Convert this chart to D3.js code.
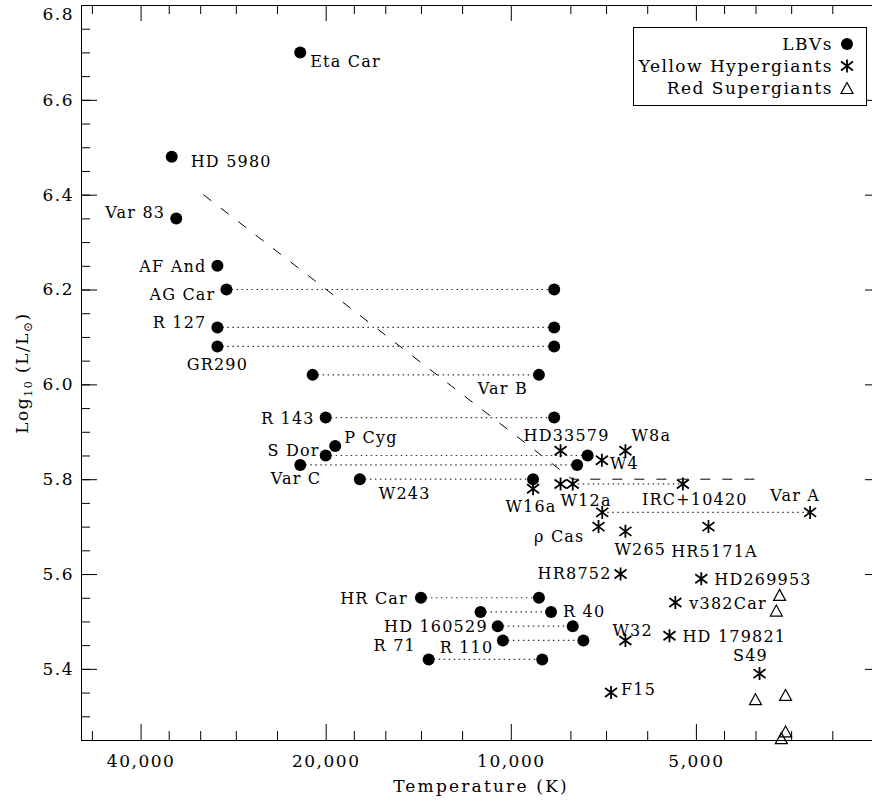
<!DOCTYPE html>
<html>
<head>
<meta charset="utf-8">
<script src="https://cdn.jsdelivr.net/npm/d3@7"></script>
<style>
  body { margin: 0; background: #fff; }
  svg { display: block; }
  text { font-family: "DejaVu Serif", serif; font-size: 17px; letter-spacing: 1.5px; fill: #000; }
  .name { font-size: 16px; letter-spacing: 1.2px; }
  .title { letter-spacing: 2.2px; }
  .axis path, .axis line { stroke: #000; stroke-width: 1px; }
  .axis text { font-family: "DejaVu Serif", serif; font-size: 17px; }
  .pair { stroke: #333; stroke-width: 1.2px; stroke-dasharray: 1.5,3.5; fill: none; }
  .hd { stroke: #000; stroke-width: 1px; stroke-dasharray: 10,12; fill: none; }
  .star { stroke: #000; stroke-width: 1.8px; fill: none; }
  .tri { stroke: #000; stroke-width: 1.2px; fill: none; }
</style>
</head>
<body>
<svg width="872" height="801"></svg>
<script>
// LBVs: temperatures (K) – two values means the star moves between them
const lbvs = [
  { name: "Eta Car", t: [22000], logL: 6.70 },
  { name: "HD 5980", t: [35600], logL: 6.48 },
  { name: "Var 83", t: [35000], logL: 6.35 },
  { name: "AF And", t: [30000], logL: 6.25 },
  { name: "AG Car", t: [29000, 8500], logL: 6.20 },
  { name: "R 127", t: [30000, 8500], logL: 6.12 },
  { name: "GR290", t: [30000, 8500], logL: 6.08 },
  { name: "Var B", t: [21000, 9000], logL: 6.02 },
  { name: "R 143", t: [20000, 8500], logL: 5.93 },
  { name: "P Cyg", t: [19300], logL: 5.87 },
  { name: "S Dor", t: [20000, 7500], logL: 5.85 },
  { name: "Var C", t: [22000, 7800], logL: 5.83 },
  { name: "W243", t: [17600, 9200], logL: 5.80 },
  { name: "HR Car", t: [14000, 9000], logL: 5.55 },
  { name: "R 40", t: [11200, 8600], logL: 5.52 },
  { name: "HD 160529", t: [10500, 7930], logL: 5.49 },
  { name: "R 71", t: [10300, 7620], logL: 5.46 },
  { name: "R 110", t: [13600, 8890], logL: 5.42 }
];

const yellowHypergiants = [
  { name: "HD33579", t: [8300], logL: 5.86 },
  { name: "W8a", t: [6510], logL: 5.86 },
  { name: "W4", t: [7110], logL: 5.84 },
  { name: "W16a", t: [9200], logL: 5.78 },
  { name: "W12a", t: [8300], logL: 5.79 },
  { name: "IRC+10420", t: [7930, 5250], logL: 5.79 },
  { name: "Var A", t: [7100, 3260], logL: 5.73 },
  { name: "ρ Cas", t: [7200], logL: 5.70 },
  { name: "W265", t: [6510], logL: 5.69 },
  { name: "HR5171A", t: [4770], logL: 5.70 },
  { name: "HR8752", t: [6630], logL: 5.60 },
  { name: "HD269953", t: [4900], logL: 5.59 },
  { name: "v382Car", t: [5400], logL: 5.54 },
  { name: "W32", t: [6510], logL: 5.46 },
  { name: "HD 179821", t: [5520], logL: 5.47 },
  { name: "S49", t: [3940], logL: 5.39 },
  { name: "F15", t: [6870], logL: 5.35 }
];

const redSupergiants = [
  { t: 3655, logL: 5.556 },
  { t: 3700, logL: 5.523 },
  { t: 4000, logL: 5.336 },
  { t: 3574, logL: 5.345 },
  { t: 3574, logL: 5.268 },
  { t: 3631, logL: 5.254 }
];

// Humphreys-Davidson limit
const hdLimit = [
  { t: 31623, logL: 6.40 },
  { t: 7943, logL: 5.80 },
  { t: 3981, logL: 5.80 }
];

const tempMajor = [40000, 20000, 10000, 5000];
const tempMinor = [48000, 36000, 32000, 28000, 24000, 18000, 16000, 14000, 12000,
  8000, 7000, 6000, 4500, 4000, 3500, 3000];
const lumMajor = [5.4, 5.6, 5.8, 6.0, 6.2, 6.4, 6.6, 6.8];
const lumMinor = d3.range(5.25, 6.8001, 0.05);

const legendLabels = ["LBVs", "Yellow Hypergiants", "Red Supergiants"];

// where each name sits: [point index, anchor, dx, dy] (pixels, from that point)
const labelPlace = {
  "Eta Car": [0, "start", 10, 9], "HD 5980": [0, "start", 19, 4],
  "Var 83": [0, "end", -11, -6], "AF And": [0, "end", -11, 0],
  "AG Car": [0, "end", -11, 4], "R 127": [0, "end", -11, -5],
  "GR290": [0, "middle", 0, 18], "Var B": [1, "end", -11, 13],
  "R 143": [0, "end", -11, 0], "P Cyg": [0, "start", 9, -9],
  "S Dor": [0, "end", -6, -5], "Var C": [0, "end", 21, 13],
  "W243": [0, "start", 19, 14], "HR Car": [0, "end", -13, 0],
  "R 40": [1, "start", 12, -1], "HD 160529": [0, "end", -10, 0],
  "R 71": [0, "end", -87, 5], "R 110": [0, "start", 11, -12],
  "HD33579": [0, "start", -37, -16], "W8a": [0, "start", 6, -16],
  "W4": [0, "start", 8, 3], "W16a": [0, "middle", -2, 17],
  "W12a": [0, "start", 0, 16], "IRC+10420": [1, "middle", 12, 15],
  "Var A": [1, "middle", -15, -17], "ρ Cas": [0, "end", -14, 9],
  "W265": [0, "start", -11, 18], "HR5171A": [0, "middle", 6, 24],
  "HR8752": [0, "end", -9, -1], "HD269953": [0, "start", 13, 0],
  "v382Car": [0, "start", 14, 1], "W32": [0, "start", -13, -10],
  "HD 179821": [0, "start", 13, 0], "S49": [0, "middle", -9, -19],
  "F15": [0, "start", 10, -4]
};

const plotLeft = 81, plotRight = 881, plotTop = 5, plotBottom = 740;

const x = d3.scaleLog().domain([50000, 2500]).range([plotLeft, plotRight]);
const y = d3.scaleLinear().domain([5.25, 6.8]).range([plotBottom, plotTop]);

const svg = d3.select("svg");

// axes: major ticks with labels, minor ticks without
svg.append("g").attr("class", "axis")
  .attr("transform", "translate(0," + plotBottom + ")")
  .call(d3.axisBottom(x).tickValues(tempMajor).tickFormat(d3.format(","))
    .tickSize(-16).tickSizeOuter(0).tickPadding(15));
svg.append("g").attr("class", "axis")
  .attr("transform", "translate(0," + plotBottom + ")")
  .call(d3.axisBottom(x).tickValues(tempMinor).tickFormat("").tickSize(-9))
  .select(".domain").remove();
svg.append("g").attr("class", "axis")
  .attr("transform", "translate(0," + plotTop + ")")
  .call(d3.axisTop(x).tickValues(tempMajor).tickFormat("").tickSize(-16).tickSizeOuter(0));
svg.append("g").attr("class", "axis")
  .attr("transform", "translate(0," + plotTop + ")")
  .call(d3.axisTop(x).tickValues(tempMinor).tickFormat("").tickSize(-9))
  .select(".domain").remove();

const yAxis = svg.append("g").attr("class", "axis")
  .attr("transform", "translate(" + plotLeft + ",0)")
  .call(d3.axisLeft(y).tickValues(lumMajor).tickFormat(d3.format(".1f"))
    .tickSize(-16).tickSizeOuter(0).tickPadding(7));
// keep the top label inside the picture
yAxis.selectAll(".tick text").attr("y", d => (y(d) < 14 ? 14 - y(d) : 0));
svg.append("g").attr("class", "axis")
  .attr("transform", "translate(" + plotLeft + ",0)")
  .call(d3.axisLeft(y).tickValues(lumMinor).tickFormat("").tickSize(-9))
  .select(".domain").remove();
svg.append("g").attr("class", "axis")
  .attr("transform", "translate(" + plotRight + ",0)")
  .call(d3.axisRight(y).tickValues(lumMajor).tickFormat("").tickSize(-16).tickSizeOuter(0));
svg.append("g").attr("class", "axis")
  .attr("transform", "translate(" + plotRight + ",0)")
  .call(d3.axisRight(y).tickValues(lumMinor).tickFormat("").tickSize(-9))
  .select(".domain").remove();

svg.selectAll(".axis text").attr("fill", "#000");

// axis titles
svg.append("text")
  .attr("class", "title")
  .attr("x", 481).attr("y", 792)
  .attr("text-anchor", "middle")
  .text("Temperature (K)");

const yTitle = svg.append("text")
  .attr("transform", "translate(28,373) rotate(-90)")
  .attr("text-anchor", "middle");
yTitle.append("tspan").text("Log");
yTitle.append("tspan").attr("font-size", "11px").attr("dy", 4).text("10");
yTitle.append("tspan").attr("dy", -4).text(" (L/L");
yTitle.append("tspan").attr("font-size", "12px").attr("dy", 4).text("\u2299");
yTitle.append("tspan").attr("dy", -4).text(")");

// HD limit
svg.append("path")
  .datum(hdLimit)
  .attr("class", "hd")
  .attr("d", d3.line().x(d => x(d.t)).y(d => y(d.logL)));

// dotted links between the two states of a star
const pairs = lbvs.concat(yellowHypergiants).filter(d => d.t.length > 1);
svg.selectAll(".pair").data(pairs).enter().append("line")
  .attr("class", "pair")
  .attr("x1", d => x(d.t[0])).attr("x2", d => x(d.t[1]))
  .attr("y1", d => y(d.logL)).attr("y2", d => y(d.logL));

// markers
const starPath = "M0,-6.5V6.5M-6,-4.5L6,4.5M-6,4.5L6,-4.5";
const triPath = "M0,-5.5L6,5.5L-6,5.5Z";

const lbvPts = lbvs.flatMap(d => d.t.map(t => ({ t: t, logL: d.logL })));
svg.selectAll(".lbv").data(lbvPts).enter().append("circle")
  .attr("class", "lbv")
  .attr("cx", d => x(d.t)).attr("cy", d => y(d.logL))
  .attr("r", 6);

const yhgPts = yellowHypergiants.flatMap(d => d.t.map(t => ({ t: t, logL: d.logL })));
svg.selectAll(".star").data(yhgPts).enter().append("path")
  .attr("class", "star")
  .attr("transform", d => "translate(" + x(d.t) + "," + y(d.logL) + ")")
  .attr("d", starPath);

svg.selectAll(".tri").data(redSupergiants).enter().append("path")
  .attr("class", "tri")
  .attr("transform", d => "translate(" + x(d.t) + "," + y(d.logL) + ")")
  .attr("d", triPath);

// names
svg.selectAll(".name").data(lbvs.concat(yellowHypergiants)).enter().append("text")
  .attr("class", "name")
  .attr("text-anchor", d => labelPlace[d.name][1])
  .attr("x", d => x(d.t[labelPlace[d.name][0]]) + labelPlace[d.name][2])
  .attr("y", d => y(d.logL) + labelPlace[d.name][3] + 6)
  .text(d => d.name);

// legend
const legend = svg.append("g");
legend.append("rect")
  .attr("x", 633.5).attr("y", 27.5).attr("width", 233).attr("height", 78)
  .attr("fill", "#fff").attr("stroke", "#000");
legendLabels.forEach(function (lab, i) {
  const ly = 44 + i * 22;
  legend.append("text")
    .attr("x", 833).attr("y", ly + 6)
    .attr("text-anchor", "end")
    .text(lab);
  const mark = legend.append("g").attr("transform", "translate(847," + ly + ")");
  if (i === 0) mark.append("circle").attr("r", 6);
  if (i === 1) mark.append("path").attr("class", "star").attr("d", starPath);
  if (i === 2) mark.append("path").attr("class", "tri").attr("d", triPath);
});
</script>
</body>
</html>
